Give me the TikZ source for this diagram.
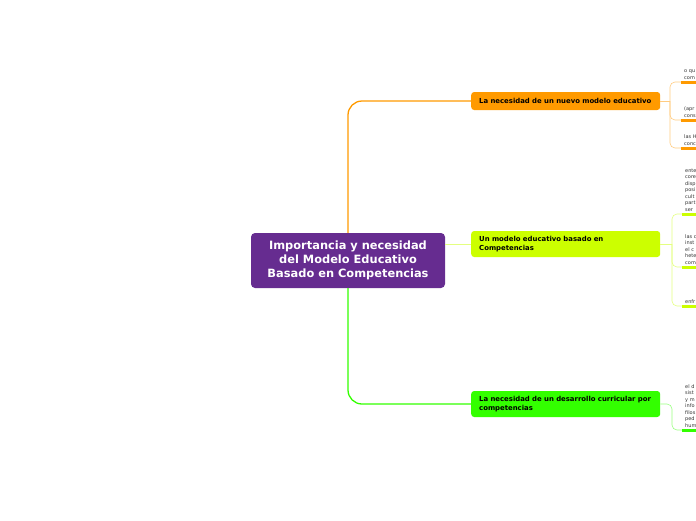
\documentclass[tikz,border=0pt]{standalone}
\usepackage{fontspec}
\newfontfamily\mapfont{DejaVu Sans}
\definecolor{rootpurple}{HTML}{662C90}
\definecolor{nuevoorange}{HTML}{FF9A00}
\definecolor{nuevolight}{HTML}{FFCB80}
\definecolor{basadoyellow}{HTML}{CCFF00}
\definecolor{basadolight}{HTML}{E4FF80}
\definecolor{curriculargreen}{HTML}{33FF00}
\definecolor{curricularlight}{HTML}{99FF80}
\definecolor{leafgray}{HTML}{333333}

\tikzset{
  root/.style={fill=rootpurple, rounded corners=4, minimum width=194, minimum height=55,
    text=white, align=center, font=\mapfont\bfseries\fontsize{11.4}{14}\selectfont},
  topic/.style={fill=#1, rounded corners=3, anchor=west, minimum width=189, text width=173,
    inner xsep=8, align=left, font=\mapfont\bfseries\fontsize{6.9}{8.2}\selectfont},
  leaf/.style={anchor=south west, minimum width=22, text width=16, inner xsep=3, inner ysep=2.5,
    align=left, text=leafgray, font=\mapfont\fontsize{5}{6.5}\selectfont},
  trunk/.style={draw=#1, line width=1.3, rounded corners=14},
  twig/.style={draw=#1, line width=0.6, rounded corners=5},
  underline/.style={draw=#1, line width=3}
}

\begin{document}
\begin{tikzpicture}[x=1pt, y=-1pt]
\useasboundingbox (0,0) rectangle (696,520);

% main idea and topics
\node[root] (root) at (348,260.5) {Importancia y necesidad\\del Modelo Educativo\\Basado en Competencias};
\node[topic=nuevoorange, minimum height=18] (nuevo) at (471,101) {La necesidad de un nuevo modelo educativo};
\node[topic=basadoyellow, minimum height=26] (basado) at (471,244) {Un modelo educativo basado en\\Competencias};
\node[topic=curriculargreen, minimum height=26] (curricular) at (471,404) {La necesidad de un desarrollo curricular por\\competencias};

\draw[trunk=nuevoorange] (root.north) |- (nuevo.west);
\draw[trunk=basadolight, line width=0.8] (root.east |- basado.west) -- (basado.west);
\draw[trunk=curriculargreen] (root.south) |- (curricular.west);

% leaves of the first topic
\node[leaf] (o1) at (681,82) {o qu\\com};
\node[leaf] (o2) at (681,120) {(apr\\cons};
\node[leaf] (o3) at (681,148) {las H\\conc};
\coordinate (ob) at (670,101);
\draw[twig=nuevolight] (nuevo.east) -- (ob);
\foreach \leafname in {o1,o2,o3}{
  \draw[twig=nuevolight] (ob) |- (\leafname.south west);
  \draw[underline=nuevoorange] (\leafname.south west) -- (\leafname.south east);
}

% leaves of the second topic
\node[leaf] (y1) at (682,214) {ente\\core\\disp\\posi\\cult\\part\\ser};
\node[leaf] (y2) at (682,267) {las c\\inst\\el c\\hete\\com};
\node[leaf] (y3) at (682,306) {enfr};
\coordinate (yb) at (672,244);
\draw[twig=basadolight] (basado.east) -- (yb);
\foreach \leafname in {y1,y2,y3}{
  \draw[twig=basadolight] (yb) |- (\leafname.south west);
  \draw[underline=basadoyellow] (\leafname.south west) -- (\leafname.south east);
}

% leaf of the third topic
\node[leaf] (g1) at (682,430) {el d\\sist\\y m\\info\\filos\\ped\\hum};
\coordinate (gb) at (672,404);
\draw[twig=curricularlight] (curricular.east) -- (gb) |- (g1.south west);
\draw[underline=curriculargreen] (g1.south west) -- (g1.south east);
\end{tikzpicture}
\end{document}
